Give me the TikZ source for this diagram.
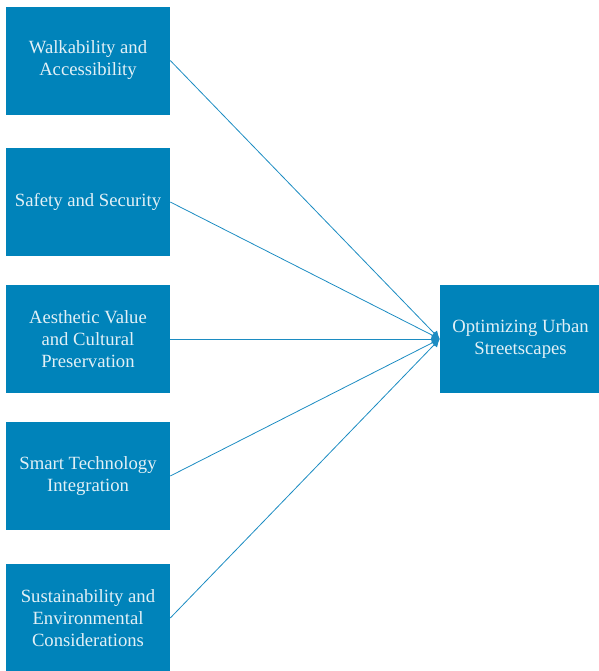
\documentclass[tikz,border=0pt]{standalone}
\usepackage{fontspec}
\setmainfont{Liberation Serif}
\usetikzlibrary{arrows.meta}
\definecolor{boxblue}{HTML}{0083BA}
\definecolor{boxtext}{HTML}{E2F0F6}
\definecolor{linkblue}{HTML}{1C8CC2}
\tikzset{
  factor/.style={fill=boxblue, text=boxtext, align=center, inner sep=0pt,
    minimum width=164*0.75pt, minimum height=108*0.75pt,
    font=\fontsize{14}{16.5}\selectfont},
  link/.style={draw=linkblue, line width=0.6pt, -{Latex[length=6pt,width=6pt]}}
}
\begin{document}
\begin{tikzpicture}[x=0.75pt,y=-0.75pt]
\useasboundingbox (0,0) rectangle (599,671);

% facteurs a gauche
\node[factor] (walk) at (88,60.5) {Walkability and\\Accessibility};
\node[factor] (safe) at (88,202) {Safety and Security};
\node[factor] (aest) at (88,339) {Aesthetic Value\\and Cultural\\Preservation};
\node[factor] (tech) at (88,476) {Smart Technology\\Integration};
\node[factor] (sust) at (88,618) {Sustainability and\\Environmental\\Considerations};

% objectif a droite
\node[factor, minimum width=161*0.75pt] (goal) at (520.5,339) {Optimizing Urban\\Streetscapes};

\foreach \f in {walk,safe,aest,tech,sust}
	\draw[link] (\f.east) -- (goal.west);

\end{tikzpicture}
\end{document}
